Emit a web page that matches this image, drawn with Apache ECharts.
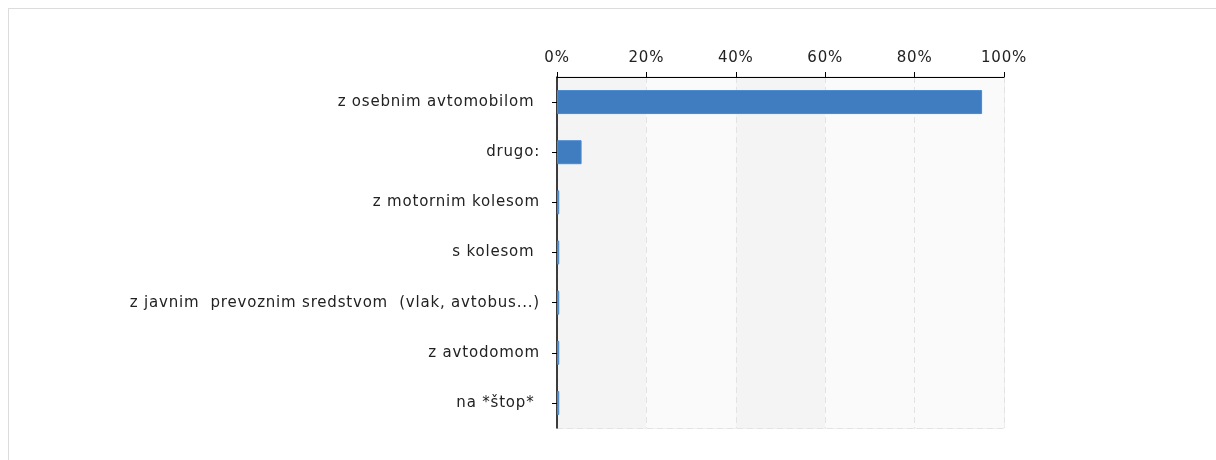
<!DOCTYPE html>
<html>
<head>
<meta charset="utf-8">
<script src="https://cdn.jsdelivr.net/npm/echarts@6/dist/echarts.min.js"></script>
<style>
    html, body { margin: 0; padding: 0; background: #fff; }
    #frame { position: absolute; left: 8px; top: 8px; width: 1216px; height: 460px;
             border-left: 1px solid #dcdcdc; border-top: 1px solid #dcdcdc; }
    #chart { position: absolute; left: 0; top: 0; width: 1216px; height: 460px; }
</style>
</head>
<body>
<div id="frame"></div>
<div id="chart"></div>
<script>
// answers, top to bottom
var categories = [
    'z osebnim avtomobilom ',
    'drugo:',
    'z motornim kolesom',
    's kolesom ',
    'z javnim  prevoznim sredstvom  (vlak, avtobus...)',
    'z avtodomom',
    'na *štop* '
];
var shares = [95.1, 5.5, 0.5, 0.5, 0.5, 0.5, 0.5];
var tickStep = 20;

// the original font runs wider than DejaVu, so space the letters a little
(function () {
    var proto = CanvasRenderingContext2D.prototype;
    var fill = proto.fillText, measure = proto.measureText;
    proto.fillText = function () { this.letterSpacing = '0.8px'; return fill.apply(this, arguments); };
    proto.measureText = function () { this.letterSpacing = '0.8px'; return measure.apply(this, arguments); };
})();

var myChart = echarts.init(document.getElementById('chart'));
var option = {
    animation: false,
    textStyle: { fontFamily: 'DejaVu Sans, Verdana, sans-serif' },
    grid: {
        left: 557,
        right: 212,
        top: 77,
        bottom: 32,
        show: true,
        borderColor: '#e0e0e0',
        borderWidth: 1
    },
    xAxis: {
        type: 'value',
        position: 'top',
        min: 0,
        max: 100,
        interval: tickStep,
        axisLine: { show: true, lineStyle: { color: '#000', width: 1 } },
        axisTick: { show: true, length: 5, lineStyle: { color: '#000' } },
        axisLabel: {
            formatter: '{value}%',
            color: '#222',
            fontSize: 15,
            margin: 11
        },
        splitLine: { show: true, lineStyle: { color: '#e3e3e3', type: [6, 4] } },
        splitArea: { show: true, areaStyle: { color: ['#f4f4f4', '#fafafa', '#f4f4f4', '#fafafa', '#fafafa'] } }
    },
    yAxis: {
        type: 'category',
        inverse: true,
        data: categories,
        axisLine: { show: true, lineStyle: { color: '#000', width: 1.5 } },
        axisTick: { show: true, alignWithLabel: true, length: 5, lineStyle: { color: '#000' } },
        axisLabel: { color: '#222', fontSize: 15, margin: 17 },
        splitLine: { show: true, lineStyle: { color: '#e3e3e3', type: [6, 4] } }
    },
    series: [
        {
            type: 'bar',
            data: shares,
            barWidth: 24,
            itemStyle: { color: '#3f7cc0', borderColor: '#4a88d0', borderWidth: 1 }
        }
    ]
};
myChart.setOption(option);
</script>
</body>
</html>
